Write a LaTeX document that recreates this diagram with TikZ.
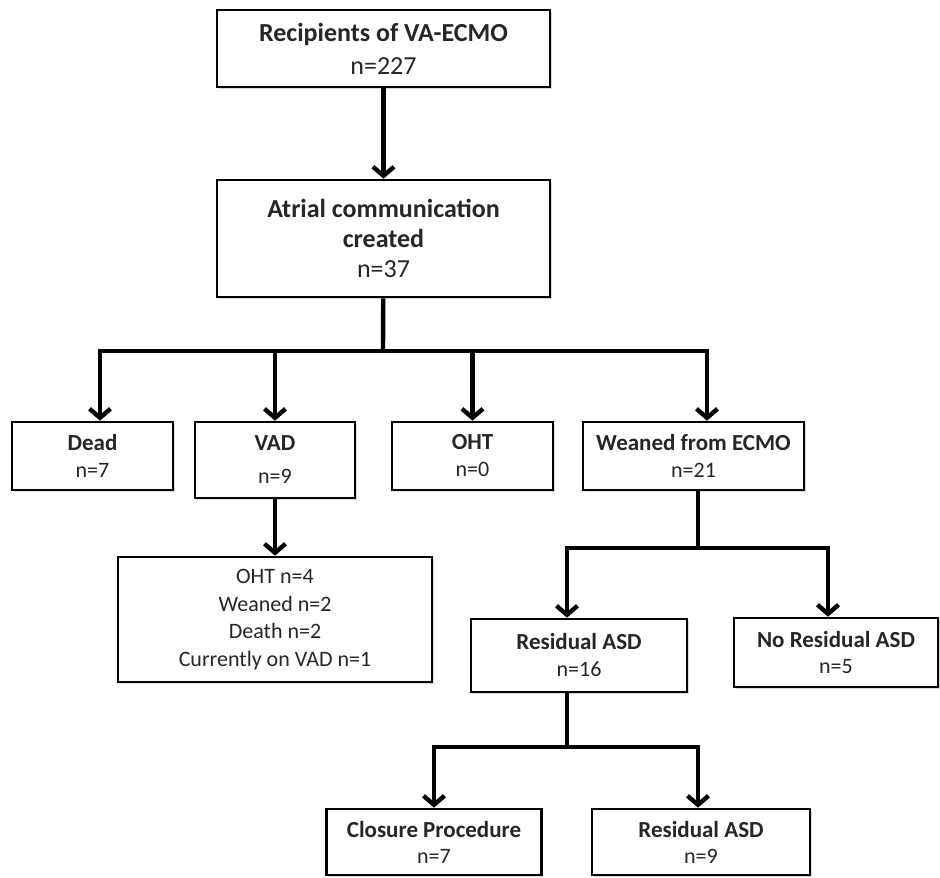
\documentclass[tikz,border=0pt]{standalone}
\usepackage{fontspec}
\setmainfont{Carlito}
\usepackage{tikz}
\usetikzlibrary{arrows.meta,shadows}

\newcommand{\hd}[1]{{\fontsize{23}{27}\selectfont\bfseries #1}}

\tikzset{
  box/.style={draw,line width=2.6pt,fill=white,align=center,inner sep=0pt,
    text=black!85,font=\fontsize{22}{27}\selectfont,
    drop shadow={shadow xshift=1.5pt,shadow yshift=-1.5pt,opacity=0.3}},
  bigbox/.style={box,minimum width=333pt,font=\fontsize{26}{30}\selectfont},
  link/.style={line width=4.4pt},
}

\begin{document}
\begin{tikzpicture}[x=1pt,y=-1pt,>={Straight Barb[length=9pt,width=21pt]}]
  \useasboundingbox (0,0) rectangle (940,878);
  % top of the chart
  \node[bigbox,minimum height=77pt] (rec) at (383.5,48.5)
    {\textbf{Recipients of VA-ECMO}\\[3pt]n=227};
  \node[bigbox,minimum height=117pt] (atr) at (383.5,238.5)
    {\textbf{Atrial communication}\\\textbf{created}\\n=37};
  % outcomes on ECMO
  \node[box,minimum width=161pt,minimum height=68pt] (dead) at (92.5,456) {\hd{Dead}\\n=7};
  \node[box,minimum width=160pt,minimum height=76pt] (vad) at (275,460) {\hd{VAD}\\[6pt]n=9};
  \node[box,minimum width=161pt,minimum height=68pt] (oht) at (472.5,456) {\hd{OHT}\\n=0};
  \node[box,minimum width=221pt,minimum height=68pt] (wean) at (693.5,456) {\hd{Weaned from ECMO}\\n=21};
  \node[box,minimum width=314pt,minimum height=125pt,font=\fontsize{22}{27.7}\selectfont] (vadout) at (275,619.5)
    {OHT n=4\\Weaned n=2\\Death n=2\\Currently on VAD n=1};
  % after weaning
  \node[box,minimum width=216pt,minimum height=73pt] (res) at (579,655.5) {\hd{Residual ASD}\\n=16};
  \node[box,minimum width=204pt,minimum height=69pt,font=\fontsize{22}{26}\selectfont] (nores) at (836,652.5) {\hd{No Residual ASD}\\n=5};
  \node[box,minimum width=215pt,minimum height=66pt,font=\fontsize{22}{26}\selectfont] (clos) at (434,842) {\hd{Closure Procedure}\\n=7};
  \node[box,minimum width=218pt,minimum height=66pt,font=\fontsize{22}{26}\selectfont] (res2) at (701,842) {\hd{Residual ASD}\\n=9};

  \coordinate (j1) at (383,351);
  \coordinate (j2) at (698,548);
  \coordinate (j3) at (567,747);

  \draw[link,->] (rec) -- (atr);
  \draw[link] (atr) -- (j1);
  \draw[link,->] (j1) -| ([xshift=7.5pt]dead.north);
  \draw[link,->] (j1) -| (vad);
  \draw[link,->] (j1) -| (oht);
  \draw[link,->] (j1) -| ([xshift=13.5pt]wean.north);
  \draw[link,->] (vad) -- (vadout);

  \draw[link] (wean.south -| j2) -- (j2);
  \draw[link,->] (j2) -| ([xshift=-12pt]res.north);
  \draw[link,->] (j2) -| ([xshift=-8pt]nores.north);

  \draw[link] (res.south -| j3) -- (j3);
  \draw[link,->] (j3) -| (clos.north);
  \draw[link,->] (j3) -| ([xshift=-3pt]res2.north);
\end{tikzpicture}
\end{document}
